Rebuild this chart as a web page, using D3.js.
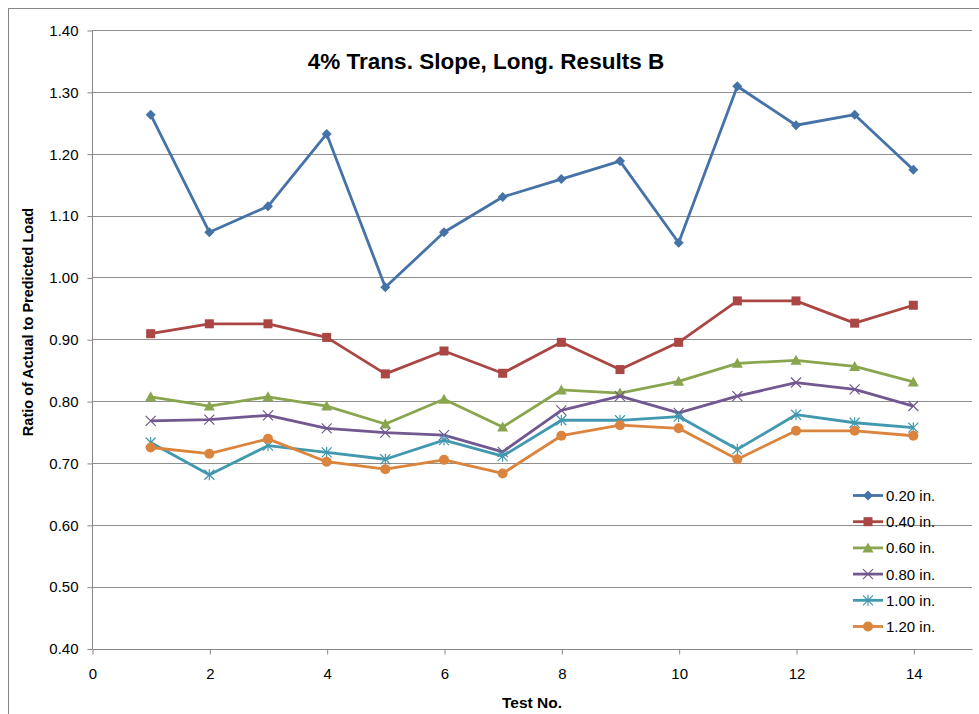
<!DOCTYPE html>
<html><head><meta charset="utf-8">
<script src="https://cdn.jsdelivr.net/npm/d3@7"></script>
<style>
html,body{margin:0;padding:0;background:#fff;}
svg{display:block;font-family:"Liberation Sans",Arial,sans-serif;}
</style></head>
<body>
<svg id="chart" width="979" height="714"></svg>
<script>
const testNo = [1,2,3,4,5,6,7,8,9,10,11,12,13,14];
const seriesNames = ["0.20 in.","0.40 in.","0.60 in.","0.80 in.","1.00 in.","1.20 in."];
const s020 = [1.263,1.073,1.115,1.232,0.984,1.073,1.130,1.159,1.188,1.056,1.309,1.246,1.263,1.174];
const s040 = [0.909,0.925,0.925,0.903,0.844,0.881,0.845,0.895,0.851,0.895,0.962,0.962,0.926,0.955];
const s060 = [0.807,0.792,0.807,0.792,0.763,0.803,0.758,0.818,0.813,0.832,0.861,0.866,0.856,0.831];
const s080 = [0.768,0.770,0.777,0.756,0.749,0.745,0.718,0.785,0.808,0.781,0.808,0.830,0.819,0.792];
const s100 = [0.733,0.681,0.728,0.717,0.706,0.737,0.711,0.769,0.769,0.775,0.722,0.778,0.765,0.757];
const s120 = [0.725,0.715,0.739,0.702,0.690,0.705,0.683,0.744,0.761,0.756,0.706,0.752,0.752,0.744];
const xTicks = [0,2,4,6,8,10,12,14];
const yTicks = [0.40,0.50,0.60,0.70,0.80,0.90,1.00,1.10,1.20,1.30,1.40];
const colors = ["#4572A7","#AA4643","#89A54E","#71588F","#4198AF","#DB843D"];
const markers = ["diamond","square","triangle","x","star","circle"];
const allSeries = [s020,s040,s060,s080,s100,s120];

const svg = d3.select("#chart");
const pL = 92, pR = 972, pT = 30, pB = 648.5;
const x = d3.scaleLinear().domain([0,15]).range([pL,pR]);
const y = d3.scaleLinear().domain([0.4,1.4]).range([pB,pT]);
const axisCol = "#868686";
const gridCol = "#8f8f8f";
const FONT = "Liberation Sans, Arial, sans-serif";

// outer chart border
svg.append("rect").attr("x",8.5).attr("y",8.5).attr("width",1100).attr("height",1100)
  .attr("fill","none").attr("stroke",axisCol).attr("stroke-width",1);

// gridlines
svg.append("g").selectAll("line").data(yTicks.slice(1)).join("line")
  .attr("x1",pL).attr("x2",pR)
  .attr("y1",d=>Math.round(y(d))+0.5).attr("y2",d=>Math.round(y(d))+0.5)
  .attr("stroke",gridCol).attr("stroke-width",1);

// y axis
const yAxis = d3.axisLeft(y).tickValues(yTicks).tickFormat(d3.format(".2f")).tickSize(5).tickPadding(9);
const gy = svg.append("g").attr("transform",`translate(${pL+0.5},0.5)`).call(yAxis);
gy.select(".domain").attr("stroke",axisCol).attr("d",`M0,${pB}V${pT}`);
gy.selectAll(".tick line").attr("stroke",axisCol);
gy.selectAll(".tick text").attr("font-size",15).attr("fill","#000").attr("font-family",FONT);

// x axis
const xAxis = d3.axisBottom(x).tickValues(xTicks).tickFormat(d3.format("d")).tickSize(5).tickPadding(14);
const gx = svg.append("g").attr("transform",`translate(0.5,${Math.round(pB)+0.5})`).call(xAxis);
gx.select(".domain").attr("stroke",axisCol).attr("d",`M${pL},0H${pR}`);
gx.selectAll(".tick line").attr("stroke",axisCol);
gx.selectAll(".tick text").attr("font-size",15).attr("fill","#000").attr("font-family",FONT);

// titles
svg.append("text").attr("x",486).attr("y",69).attr("text-anchor","middle").attr("font-family",FONT)
  .attr("font-size",22.5).attr("font-weight","bold").text("4% Trans. Slope, Long. Results B");
svg.append("text").attr("x",532).attr("y",708).attr("text-anchor","middle").attr("font-family",FONT)
  .attr("font-size",15.5).attr("font-weight","bold").text("Test No.");
svg.append("text").attr("transform","translate(33,322) rotate(-90)").attr("text-anchor","middle").attr("font-family",FONT)
  .attr("font-size",14.5).attr("font-weight","bold").text("Ratio of Actual to Predicted Load");

function drawMarker(g, type, cx, cy, color){
  const s = 5;
  if(type==="diamond"){
    g.append("path").attr("d",`M${cx},${cy-s}L${cx+s},${cy}L${cx},${cy+s}L${cx-s},${cy}Z`).attr("fill",color);
  } else if(type==="square"){
    g.append("rect").attr("x",cx-4.5).attr("y",cy-4.5).attr("width",9).attr("height",9).attr("fill",color);
  } else if(type==="triangle"){
    g.append("path").attr("d",`M${cx},${cy-5.5}L${cx+5.5},${cy+4.5}L${cx-5.5},${cy+4.5}Z`).attr("fill",color);
  } else if(type==="x"){
    g.append("path").attr("d",`M${cx-5},${cy-5}L${cx+5},${cy+5}M${cx-5},${cy+5}L${cx+5},${cy-5}`)
      .attr("stroke",color).attr("stroke-width",1.2).attr("fill","none");
  } else if(type==="star"){
    g.append("path").attr("d",`M${cx-5},${cy-5}L${cx+5},${cy+5}M${cx-5},${cy+5}L${cx+5},${cy-5}M${cx},${cy-5.5}L${cx},${cy+5.5}`)
      .attr("stroke",color).attr("stroke-width",1.2).attr("fill","none");
  } else {
    g.append("circle").attr("cx",cx).attr("cy",cy).attr("r",5).attr("fill",color);
  }
}

const line = d3.line().x((d,i)=>x(testNo[i])).y(d=>y(d));
allSeries.forEach((vals,k)=>{
  const g = svg.append("g");
  g.append("path").datum(vals).attr("d",line).attr("fill","none")
    .attr("stroke",colors[k]).attr("stroke-width",2.8).attr("stroke-linejoin","round");
  vals.forEach((v,i)=>drawMarker(g,markers[k],x(testNo[i]),y(v),colors[k]));
});

// legend
const lg = svg.append("g");
seriesNames.forEach((name,k)=>{
  const ly = 495.5 + k*26.2;
  lg.append("line").attr("x1",853).attr("x2",883).attr("y1",ly).attr("y2",ly)
    .attr("stroke",colors[k]).attr("stroke-width",2.8);
  drawMarker(lg,markers[k],868,ly,colors[k]);
  lg.append("text").attr("x",886).attr("y",ly+5.5).attr("font-size",15).attr("font-family",FONT).text(name);
});
</script>
</body></html>
